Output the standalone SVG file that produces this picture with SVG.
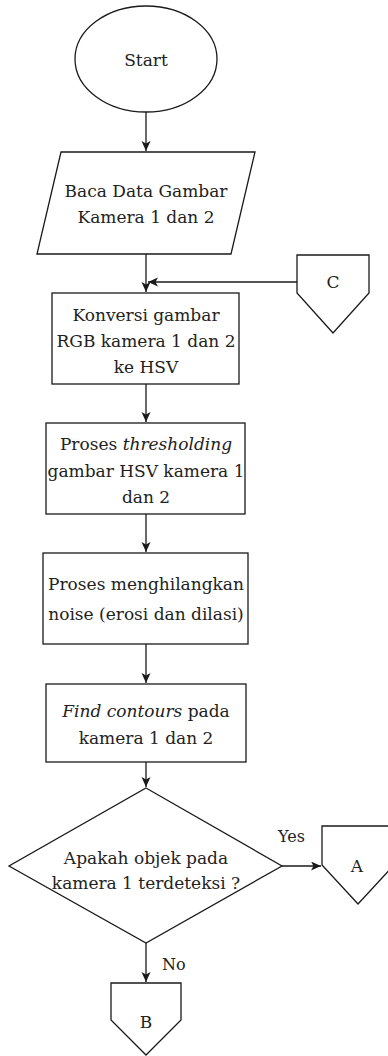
<svg xmlns="http://www.w3.org/2000/svg" width="388" height="1056" viewBox="0 0 388 1056">
<style>
.s{fill:#fff;stroke:#1a1a1a;stroke-width:1.3}
.c{fill:none;stroke:#1a1a1a;stroke-width:1.3}
.t{font-family:'DejaVu Serif','Liberation Serif',serif;font-size:17px;fill:#222;text-anchor:middle}
.l{font-family:'DejaVu Serif','Liberation Serif',serif;font-size:16px;fill:#222}
</style>
<defs>
<marker id="ah" markerUnits="userSpaceOnUse" markerWidth="11" markerHeight="10" refX="10" refY="4.5" orient="auto">
<path d="M0,0 L10,4.5 L0,9 L2.5,4.5 z" fill="#1a1a1a"/>
</marker>
</defs>
<rect width="388" height="1056" fill="#fff"/>
<g id="connectors">
<line class="c" x1="146" y1="112" x2="146" y2="151" marker-end="url(#ah)"/>
<line class="c" x1="146" y1="254" x2="146" y2="292" marker-end="url(#ah)"/>
<line class="c" x1="297" y1="282" x2="148" y2="282" marker-end="url(#ah)"/>
<line class="c" x1="146" y1="384" x2="146" y2="422" marker-end="url(#ah)"/>
<line class="c" x1="146" y1="514" x2="146" y2="552" marker-end="url(#ah)"/>
<line class="c" x1="146" y1="644" x2="146" y2="683" marker-end="url(#ah)"/>
<line class="c" x1="146" y1="762" x2="146" y2="787" marker-end="url(#ah)"/>
<line class="c" x1="282" y1="866" x2="321" y2="866" marker-end="url(#ah)"/>
<line class="c" x1="146" y1="943" x2="146" y2="982" marker-end="url(#ah)"/>
<text class="l" x="278" y="842">Yes</text>
<text class="l" x="162" y="970">No</text>
</g>
<g id="start">
<ellipse class="s" cx="146" cy="59" rx="71" ry="53"/>
<text class="t" x="146" y="66">Start</text>
</g>
<g id="baca">
<polygon class="s" points="61,152 255,152 231,254 37,254"/>
<text class="t" x="146" y="197">Baca Data Gambar</text>
<text class="t" x="146" y="223">Kamera 1 dan 2</text>
</g>
<g id="konversi">
<rect class="s" x="52" y="293" width="187" height="91"/>
<text class="t" x="146" y="321">Konversi gambar</text>
<text class="t" x="146" y="347">RGB kamera 1 dan 2</text>
<text class="t" x="146" y="373">ke HSV</text>
</g>
<g id="threshold">
<rect class="s" x="46" y="423" width="199" height="91"/>
<text class="t" x="146" y="450">Proses <tspan font-style="italic">thresholding</tspan></text>
<text class="t" x="146" y="477">gambar HSV kamera 1</text>
<text class="t" x="146" y="503">dan 2</text>
</g>
<g id="noise">
<rect class="s" x="43" y="553" width="205" height="91"/>
<text class="t" x="146" y="590">Proses menghilangkan</text>
<text class="t" x="146" y="620">noise (erosi dan dilasi)</text>
</g>
<g id="contours">
<rect class="s" x="46" y="684" width="200" height="78"/>
<text class="t" x="146" y="717"><tspan font-style="italic">Find contours</tspan> pada</text>
<text class="t" x="146" y="744">kamera 1 dan 2</text>
</g>
<g id="decision">
<polygon class="s" points="146,788 282,866 146,943 9,866"/>
<text class="t" x="146" y="864">Apakah objek pada</text>
<text class="t" x="146" y="889">kamera 1 terdeteksi ?</text>
</g>
<g id="conn-c">
<polygon class="s" points="297,255 369,255 369,293 333,333 297,293"/>
<text class="t" x="333" y="288">C</text>
</g>
<g id="conn-a">
<polygon class="s" points="322,826 394,826 394,865 358,904 322,865"/>
<text class="t" x="357" y="872">A</text>
</g>
<g id="conn-b">
<polygon class="s" points="111,983 181,983 181,1020 146,1055 111,1020"/>
<text class="t" x="146" y="1028">B</text>
</g>
</svg>
